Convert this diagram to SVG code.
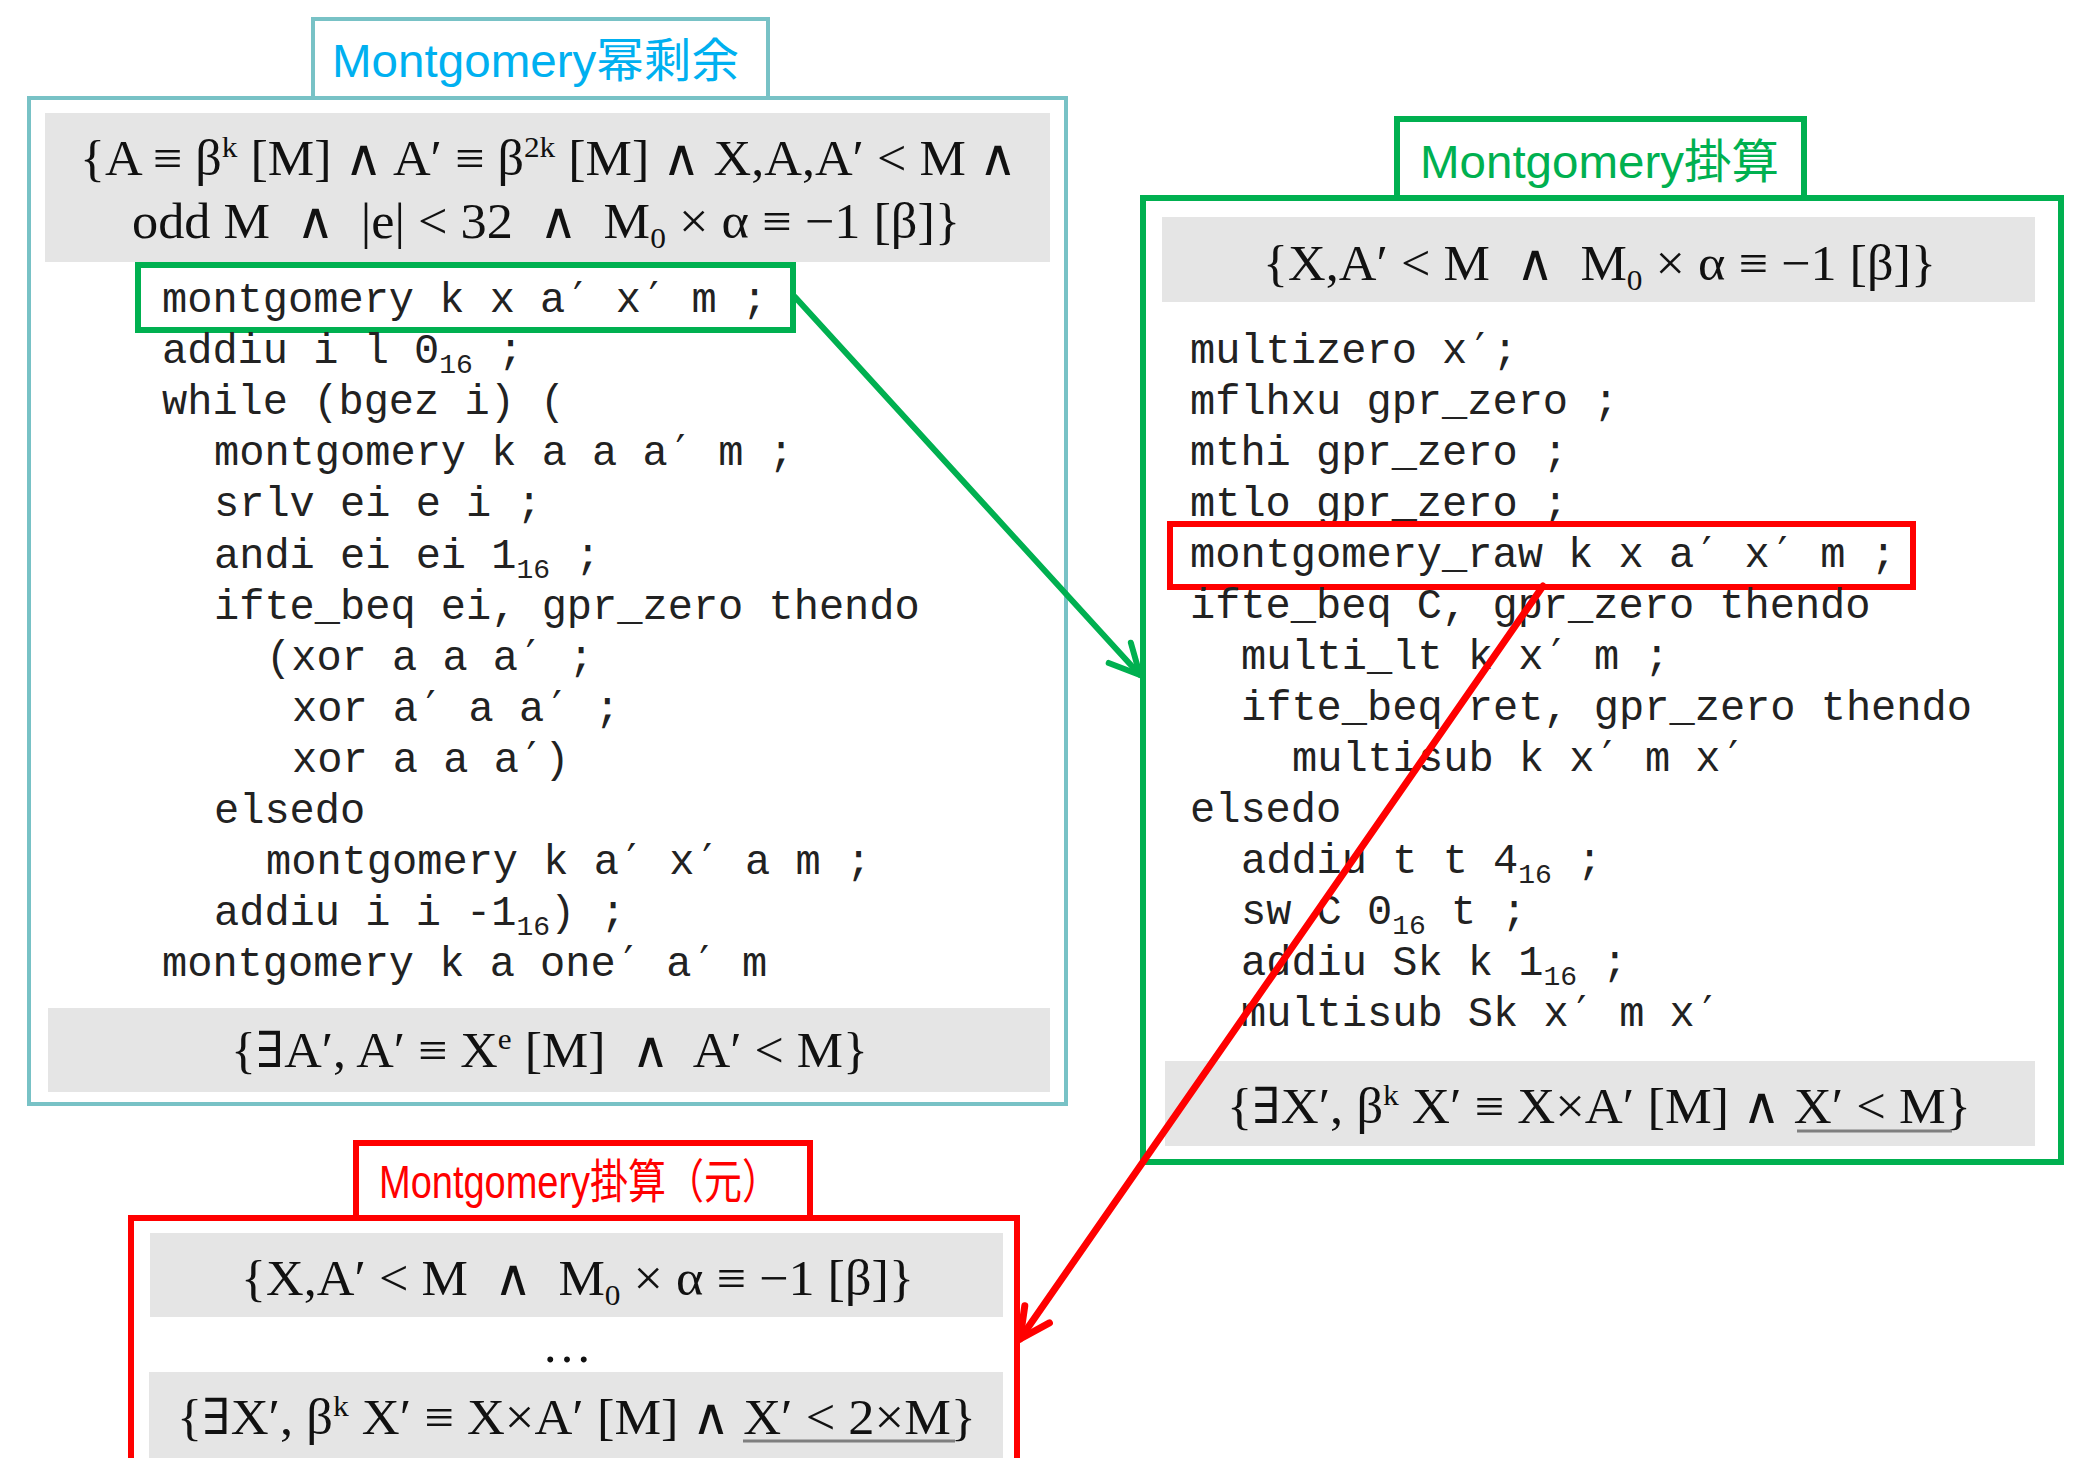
<svg xmlns="http://www.w3.org/2000/svg" width="2085" height="1458" viewBox="0 0 2085 1458">
<style>
.code{font-family:"Liberation Mono","DejaVu Sans Mono",monospace;font-size:42px;fill:#222}
.p{font-family:"DejaVu Sans Mono",monospace}
.sub{font-size:28px}
.math{font-family:"Liberation Serif","DejaVu Serif",serif;font-size:50px;fill:#111}
.sup{font-size:30px}
.band{fill:#e5e5e5}
.title{font-family:"Liberation Sans","Noto Sans CJK JP",sans-serif;font-size:47px}
.ul{stroke:#7f7f7f;stroke-width:3}
</style>
<defs>
<marker id="arrG" viewBox="-40 -24 48 48" refX="0" refY="0" markerWidth="48" markerHeight="48" markerUnits="userSpaceOnUse" orient="auto">
<path d="M-30,-15 L0,0 L-30,15" fill="none" stroke="#00B050" stroke-width="6" stroke-linecap="round" stroke-linejoin="round"/>
</marker>
<marker id="arrR" viewBox="-40 -24 48 48" refX="0" refY="0" markerWidth="48" markerHeight="48" markerUnits="userSpaceOnUse" orient="auto">
<path d="M-30,-15 L0,0 L-30,15" fill="none" stroke="#FF0000" stroke-width="7" stroke-linecap="round" stroke-linejoin="round"/>
</marker>
</defs>
<rect width="2085" height="1458" fill="#fff"/>

<g id="node-powmod">
<rect x="313" y="19" width="455" height="79" fill="#fff" stroke="#78C2C6" stroke-width="4"/>
<text class="title" x="332" y="77" fill="#00B0F0" textLength="407" lengthAdjust="spacingAndGlyphs" font-family="Liberation Sans, Noto Sans CJK SC, sans-serif">Montgomery幂剩余</text>
<rect x="29" y="98" width="1037" height="1006" fill="#fff" stroke="#78C2C6" stroke-width="4"/>
<rect class="band" x="45" y="113" width="1005" height="149"/>
<text class="math" xml:space="preserve" x="80" y="175" textLength="937" lengthAdjust="spacingAndGlyphs">{A ≡ β<tspan class="sup" dy="-18">k</tspan><tspan dy="18"> [M] ∧ A′ ≡ β</tspan><tspan class="sup" dy="-18">2k</tspan><tspan dy="18"> [M] ∧ X,A,A′ &lt; M ∧</tspan></text>
<text class="math" xml:space="preserve" x="132" y="238" textLength="828" lengthAdjust="spacingAndGlyphs">odd M  ∧  |e| &lt; 32  ∧  M<tspan class="sup" dy="10">0</tspan><tspan dy="-10"> × α ≡ −1 [β]}</tspan></text>
<rect x="138" y="265" width="655" height="65" fill="none" stroke="#00B050" stroke-width="6"/>
<text class="code" x="162" y="312">montgomery k x a<tspan class="p">′</tspan> x<tspan class="p">′</tspan> m ;</text>
<text class="code" x="162" y="363">addiu i l 0<tspan class="sub" dy="10">16</tspan><tspan dy="-10"> ;</tspan></text>
<text class="code" x="162" y="414">while (bgez i) (</text>
<text class="code" x="214" y="465">montgomery k a a a<tspan class="p">′</tspan> m ;</text>
<text class="code" x="214" y="516">srlv ei e i ;</text>
<text class="code" x="214" y="568">andi ei ei 1<tspan class="sub" dy="10">16</tspan><tspan dy="-10"> ;</tspan></text>
<text class="code" x="214" y="619">ifte_beq ei, gpr_zero thendo</text>
<text class="code" x="266" y="670">(xor a a a<tspan class="p">′</tspan> ;</text>
<text class="code" x="292" y="721">xor a<tspan class="p">′</tspan> a a<tspan class="p">′</tspan> ;</text>
<text class="code" x="292" y="772">xor a a a<tspan class="p">′</tspan>)</text>
<text class="code" x="214" y="823">elsedo</text>
<text class="code" x="266" y="874">montgomery k a<tspan class="p">′</tspan> x<tspan class="p">′</tspan> a m ;</text>
<text class="code" x="214" y="925">addiu i i -1<tspan class="sub" dy="10">16</tspan><tspan dy="-10">) ;</tspan></text>
<text class="code" x="162" y="976">montgomery k a one<tspan class="p">′</tspan> a<tspan class="p">′</tspan> m</text>
<rect class="band" x="48" y="1008" width="1002" height="84"/>
<text class="math" xml:space="preserve" x="231" y="1067" textLength="637" lengthAdjust="spacingAndGlyphs">{∃A′, A′ ≡ X<tspan class="sup" dy="-18">e</tspan><tspan dy="18"> [M]  ∧  A′ &lt; M}</tspan></text>
</g>

<g id="node-mont">
<rect x="1397" y="119" width="407" height="79" fill="#fff" stroke="#00B050" stroke-width="6"/>
<text class="title" x="1420" y="178" fill="#00B050" textLength="359" lengthAdjust="spacingAndGlyphs">Montgomery掛算</text>
<rect x="1143" y="198" width="918" height="964" fill="#fff" stroke="#00B050" stroke-width="6"/>
<rect class="band" x="1162" y="217" width="873" height="85"/>
<text class="math" xml:space="preserve" x="1263" y="280" textLength="673" lengthAdjust="spacingAndGlyphs">{X,A′ &lt; M  ∧  M<tspan class="sup" dy="10">0</tspan><tspan dy="-10"> × α ≡ −1 [β]}</tspan></text>
<text class="code" x="1190" y="363">multizero x<tspan class="p">′</tspan>;</text>
<text class="code" x="1190" y="414">mflhxu gpr_zero ;</text>
<text class="code" x="1190" y="465">mthi gpr_zero ;</text>
<text class="code" x="1190" y="516">mtlo gpr_zero ;</text>
<rect x="1170" y="524" width="743" height="63" fill="none" stroke="#FF0000" stroke-width="6"/>
<text class="code" x="1190" y="567">montgomery_raw k x a<tspan class="p">′</tspan> x<tspan class="p">′</tspan> m ;</text>
<text class="code" x="1190" y="618">ifte_beq C, gpr_zero thendo</text>
<text class="code" x="1241" y="669">multi_lt k x<tspan class="p">′</tspan> m ;</text>
<text class="code" x="1241" y="720">ifte_beq ret, gpr_zero thendo</text>
<text class="code" x="1292" y="771">multisub k x<tspan class="p">′</tspan> m x<tspan class="p">′</tspan></text>
<text class="code" x="1190" y="822">elsedo</text>
<text class="code" x="1241" y="873">addiu t t 4<tspan class="sub" dy="10">16</tspan><tspan dy="-10"> ;</tspan></text>
<text class="code" x="1241" y="924">sw C 0<tspan class="sub" dy="10">16</tspan><tspan dy="-10"> t ;</tspan></text>
<text class="code" x="1241" y="975">addiu Sk k 1<tspan class="sub" dy="10">16</tspan><tspan dy="-10"> ;</tspan></text>
<text class="code" x="1241" y="1026">multisub Sk x<tspan class="p">′</tspan> m x<tspan class="p">′</tspan></text>
<rect class="band" x="1165" y="1061" width="870" height="85"/>
<text class="math" xml:space="preserve" x="1227" y="1123" textLength="744" lengthAdjust="spacingAndGlyphs">{∃X′, β<tspan class="sup" dy="-18">k</tspan><tspan dy="18"> X′ ≡ X×A′ [M] ∧ X′ &lt; M}</tspan></text>
<line class="ul" x1="1797" y1="1131" x2="1952" y2="1131"/>
</g>

<g id="node-montraw">
<rect x="356" y="1143" width="454" height="75" fill="#fff" stroke="#FF0000" stroke-width="6"/>
<text class="title" x="379" y="1198" fill="#FF0000" font-size="43" textLength="401" lengthAdjust="spacingAndGlyphs">Montgomery掛算（元）</text>
<rect x="131" y="1218" width="886" height="260" fill="#fff" stroke="#FF0000" stroke-width="6"/>
<rect class="band" x="150" y="1233" width="853" height="84"/>
<text class="math" xml:space="preserve" x="241" y="1295" textLength="673" lengthAdjust="spacingAndGlyphs">{X,A′ &lt; M  ∧  M<tspan class="sup" dy="10">0</tspan><tspan dy="-10"> × α ≡ −1 [β]}</tspan></text>
<text class="math" x="567" y="1362" font-size="36" text-anchor="middle">…</text>
<rect class="band" x="149" y="1372" width="854" height="100"/>
<text class="math" xml:space="preserve" x="177" y="1434" textLength="799" lengthAdjust="spacingAndGlyphs">{∃X′, β<tspan class="sup" dy="-18">k</tspan><tspan dy="18"> X′ ≡ X×A′ [M] ∧ X′ &lt; 2×M}</tspan></text>
<line class="ul" x1="743" y1="1441" x2="955" y2="1441"/>
</g>

<g id="connectors">
<line x1="795" y1="297" x2="1140" y2="675" stroke="#00B050" stroke-width="6" stroke-linecap="round" marker-end="url(#arrG)"/>
<line x1="1543" y1="586" x2="1020" y2="1339" stroke="#FF0000" stroke-width="7" stroke-linecap="round" marker-end="url(#arrR)"/>
</g>
</svg>
